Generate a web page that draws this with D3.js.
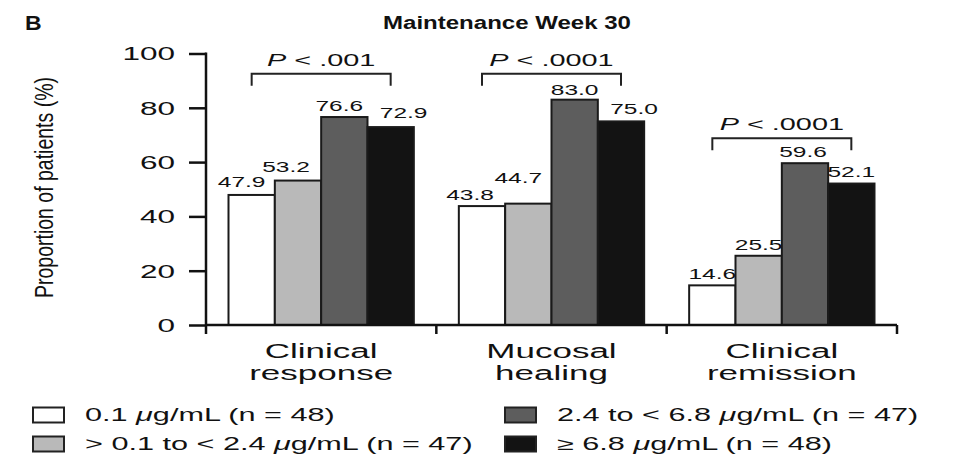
<!DOCTYPE html>
<html lang="en">
<head>
    <meta charset="UTF-8">
    <title>Maintenance Week 30</title>
    <script src="https://d3js.org/d3.v7.min.js"></script>
    <style>
        body { margin: 0; background: #fff; }
        text { font-family: "Liberation Sans", Arial, Helvetica, sans-serif; fill: #111; }
    </style>
</head>
<body>
    <svg id="chart" width="953" height="458"></svg>

    <script>
        // categories and series
        var categories = [["Clinical", "response"], ["Mucosal", "healing"], ["Clinical", "remission"]];
        var seriesNames = [
            ["0.1 ", "\u03bc", "g/mL (n = 48)"],
            ["> 0.1 to < 2.4 ", "\u03bc", "g/mL (n = 47)"],
            ["2.4 to < 6.8 ", "\u03bc", "g/mL (n = 47)"],
            ["\u2265 6.8 ", "\u03bc", "g/mL (n = 48)"]];
        var seriesColors = ["#ffffff", "#b9b9b9", "#5d5d5d", "#131313"];

        // proportion of patients (%) per category, one array per series
        var s1 = [47.9, 43.8, 14.6];
        var s2 = [53.2, 44.7, 25.5];
        var s3 = [76.6, 83.0, 59.6];
        var s4 = [72.9, 75.0, 52.1];
        var seriesValues = [s1, s2, s3, s4];

        // p-value brackets: text and bracket level (y value)
        var pTexts = [".001", ".0001", ".0001"];
        var pLevels = [92.5, 92.5, 68.8];

        var yTicks = [0, 20, 40, 60, 80, 100];

        var SX = 1.75; // the figure is stretched sideways
        // small nudges so neighbouring value labels don't collide
        var labelShift = [[-10, -12, -5, 13], [-12, -10, 0, 13], [0, 0, -2, 0]];
        var labelLift = [[2, 3, 0, 3], [0, 15, -1, 1], [0, 0, 0, 1]];

        var svg = d3.select("#chart");
        var catKeys = categories.map(c => c.join(" "));

        var x = d3.scaleBand().domain(catKeys).range([206, 897]).padding(0);
        var xs = d3.scaleBand().domain(d3.range(4)).range([22.5, x.bandwidth() - 22.5]);
        var y = d3.scaleLinear().domain([0, 100]).range([325, 53.5]);

        // flat bar list
        var bars = [];
        catKeys.forEach(function(c, ci) {
            seriesValues.forEach(function(vals, si) {
                bars.push({cat: c, ci: ci, s: si, v: vals[ci]});
            });
        });

        svg.append("g")
            .selectAll("rect")
            .data(bars)
            .join("rect")
            .attr("x", d => x(d.cat) + xs(d.s))
            .attr("y", d => y(d.v))
            .attr("width", xs.bandwidth())
            .attr("height", d => y(0) - y(d.v))
            .attr("fill", d => seriesColors[d.s])
            .attr("stroke", "#1a1a1a")
            .attr("stroke-width", 2);

        // value labels
        svg.append("g")
            .selectAll("text")
            .data(bars)
            .join("text")
            .attr("font-size", 14)
            .attr("text-anchor", "middle")
            .attr("transform", "scale(" + SX + ",1)")
            .attr("x", d => (x(d.cat) + xs(d.s) + xs.bandwidth() / 2 + labelShift[d.ci][d.s]) / SX)
            .attr("y", d => y(d.v) - 6 - labelLift[d.ci][d.s])
            .text(d => d.v.toFixed(1));

        // y axis
        var yAxis = svg.append("g")
            .attr("transform", "translate(206,0)")
            .call(d3.axisLeft(y).tickValues(yTicks).tickSize(17).tickPadding(13).tickSizeOuter(0));
        yAxis.select(".domain").remove();
        yAxis.selectAll("line").attr("stroke", "#111").attr("stroke-width", 2.5);
        yAxis.selectAll("text")
            .attr("font-size", 18)
            .attr("fill", "#111")
            .attr("dy", "0.36em")
            .attr("transform", "scale(" + SX + ",1)")
            .attr("x", -31 / SX);
        svg.append("line")
            .attr("x1", 206).attr("x2", 206)
            .attr("y1", y(100) - 1).attr("y2", y(0) + 9)
            .attr("stroke", "#111").attr("stroke-width", 2.5);

        // x axis line and ticks at band edges
        var edges = catKeys.map(c => x(c)).concat([x.range()[1]]);
        svg.append("line")
            .attr("x1", x.range()[0]).attr("x2", x.range()[1])
            .attr("y1", y(0)).attr("y2", y(0))
            .attr("stroke", "#111").attr("stroke-width", 2.5);
        svg.append("g")
            .selectAll("line")
            .data(edges.slice(1))
            .join("line")
            .attr("x1", d => d).attr("x2", d => d)
            .attr("y1", y(0)).attr("y2", y(0) + 9)
            .attr("stroke", "#111").attr("stroke-width", 2.5);

        // category labels
        svg.append("g")
            .selectAll("text")
            .data(categories)
            .join("text")
            .attr("font-size", 20)
            .attr("text-anchor", "middle")
            .attr("transform", "scale(" + SX + ",1)")
            .each(function(d, i) {
                var t = d3.select(this);
                d.forEach(function(line, li) {
                    t.append("tspan")
                        .attr("x", (x(catKeys[i]) + x.bandwidth() / 2) / SX)
                        .attr("y", 358 + li * 22)
                        .text(line);
                });
            });

        // p-value brackets
        var br = svg.append("g");
        catKeys.forEach(function(c, i) {
            var x1 = x(c) + xs(0) + xs.bandwidth() / 2;
            var x2 = x(c) + xs(3) + xs.bandwidth() / 2;
            var yb = y(pLevels[i]);
            br.append("path")
                .attr("d", "M" + x1 + "," + (yb + 12) + "V" + yb + "H" + x2 + "V" + (yb + 12))
                .attr("fill", "none")
                .attr("stroke", "#222")
                .attr("stroke-width", 2);
            var t = br.append("text")
                .attr("font-size", 16.5)
                .attr("text-anchor", "middle")
                .attr("transform", "scale(" + SX + ",1)")
                .attr("x", (x1 + x2) / 2 / SX)
                .attr("y", yb - 8);
            t.append("tspan").attr("font-style", "italic").text("P");
            t.append("tspan").text(" < " + pTexts[i]);
        });

        // titles
        svg.append("text")
            .attr("font-size", 20).attr("font-weight", "bold")
            .attr("transform", "scale(1.15,1)")
            .attr("x", 25 / 1.15).attr("y", 30)
            .text("B");
        svg.append("text")
            .attr("font-size", 18.5).attr("font-weight", "bold")
            .attr("text-anchor", "middle")
            .attr("transform", "scale(1.3,1)")
            .attr("x", 507 / 1.3).attr("y", 29)
            .text("Maintenance Week 30");

        // y axis label
        svg.append("text")
            .attr("font-size", 19.5)
            .attr("text-anchor", "middle")
            .attr("transform", "translate(53,187.5) scale(1.3,1) rotate(-90)")
            .text("Proportion of patients (%)");

        // legend
        var legendPos = [[33, 415], [33, 444], [505, 415], [505, 444]];
        var lg = svg.append("g")
            .selectAll("g")
            .data(seriesNames)
            .join("g")
            .attr("transform", (d, i) => "translate(" + legendPos[i][0] + "," + legendPos[i][1] + ")");
        lg.append("rect")
            .attr("x", 0).attr("y", -7.5)
            .attr("width", 31).attr("height", 15)
            .attr("fill", (d, i) => seriesColors[i])
            .attr("stroke", "#222").attr("stroke-width", 2);
        lg.append("text")
            .attr("font-size", 17.5)
            .attr("transform", "scale(" + SX + ",1)")
            .attr("x", 52 / SX)
            .attr("y", 6)
            .each(function(d) {
                var t = d3.select(this);
                t.append("tspan").text(d[0]);
                t.append("tspan").attr("font-style", "italic").text(d[1]);
                t.append("tspan").text(d[2]);
            });
    </script>
</body>
</html>
